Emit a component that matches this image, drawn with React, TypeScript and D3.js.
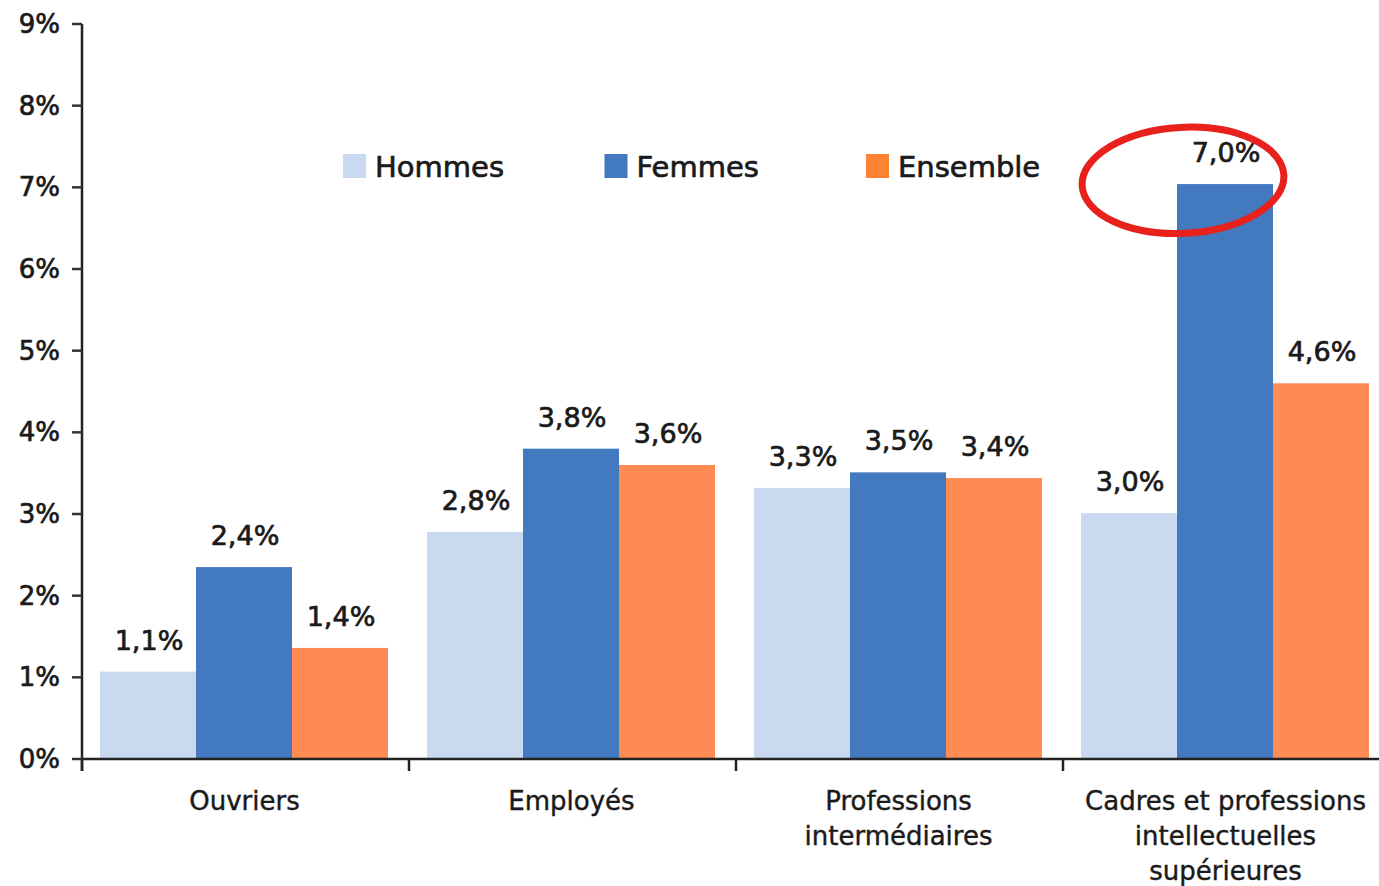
import React from "react";
import * as d3 from "d3";

const categories = [
  ["Ouvriers"],
  ["Employés"],
  ["Professions", "intermédiaires"],
  ["Cadres et professions", "intellectuelles", "supérieures"],
];
const categoryKeys = ["Ouvriers", "Employés", "Professions intermédiaires", "Cadres et professions intellectuelles supérieures"];
const seriesNames = ["Hommes", "Femmes", "Ensemble"];
const hommes = [1.07, 2.78, 3.32, 3.01];
const femmes = [2.35, 3.8, 3.51, 7.04];
const ensemble = [1.36, 3.6, 3.44, 4.6];
const hommesLabels = ["1,1%", "2,8%", "3,3%", "3,0%"];
const femmesLabels = ["2,4%", "3,8%", "3,5%", "7,0%"];
const ensembleLabels = ["1,4%", "3,6%", "3,4%", "4,6%"];
const yTicks = [0, 1, 2, 3, 4, 5, 6, 7, 8, 9];
const yTickLabels = ["0%", "1%", "2%", "3%", "4%", "5%", "6%", "7%", "8%", "9%"];

const barColors = ["#C9DAF0", "#4379BE", "#FE8B54"];
const legendColors = ["#C9DAF0", "#4379BE", "#FF8232"];

const W = 1379;
const H = 886;
const FONT = "'DejaVu Sans', Verdana, sans-serif";
const TEXT = "#1a1a1a";

export default function App() {
  const y = d3.scaleLinear().domain([0, 9]).range([759, 24]);
  const x = d3.scaleBand<string>().domain(categoryKeys).range([82, 82 + 4 * 327]).paddingInner(0).paddingOuter(0);
  const xi = d3.scaleBand<string>().domain(seriesNames).range([18, 18 + 288]);
  const values = [hommes, femmes, ensemble];
  const labels = [hommesLabels, femmesLabels, ensembleLabels];
  const legendX = d3.scalePoint<string>().domain(seriesNames).range([343, 866]);

  const cadres = categoryKeys[3];
  const ellCx = (x(cadres) as number) + (xi("Femmes") as number) + 6;
  const ellCy = y(7) - 7;

  const textProps = { fontFamily: FONT, fill: TEXT, stroke: TEXT, strokeWidth: 0.7 };

  return (
    <svg width={W} height={H} style={{ position: "absolute", left: 0, top: 0, background: "#fff" }}>
      {categoryKeys.map((c, ci) =>
        seriesNames.map((s, si) => {
          const bx = (x(c) as number) + (xi(s) as number);
          const v = values[si][ci];
          return (
            <rect key={c + s} x={bx} y={y(v)} width={xi.bandwidth()} height={y(0) - y(v)} fill={barColors[si]} />
          );
        })
      )}
      {categoryKeys.map((c, ci) =>
        seriesNames.map((s, si) => {
          const bx = (x(c) as number) + (xi(s) as number) + xi.bandwidth() / 2;
          const v = values[si][ci];
          return (
            <text key={"l" + c + s} x={bx + 1} y={y(v) - 22} textAnchor="middle" fontSize={27} {...textProps}>
              {labels[si][ci]}
            </text>
          );
        })
      )}
      <line x1={82} x2={82} y1={y(9)} y2={771} stroke="#222" strokeWidth={2.5} />
      {yTicks.map((t, i) => (
        <g key={t}>
          <line x1={72} x2={82} y1={y(t)} y2={y(t)} stroke="#333" strokeWidth={2.5} />
          <text x={60} y={y(t) + 9} textAnchor="end" fontSize={26} {...textProps}>
            {yTickLabels[i]}
          </text>
        </g>
      ))}
      <line x1={82} x2={W} y1={y(0)} y2={y(0)} stroke="#222" strokeWidth={2.5} />
      {categoryKeys.map((c) => (
        <line key={"t" + c} x1={x(c) as number} x2={x(c) as number} y1={y(0)} y2={771} stroke="#222" strokeWidth={2.5} />
      ))}
      {categoryKeys.map((c, ci) => (
        <text key={"c" + c} textAnchor="middle" fontSize={26} {...textProps} strokeWidth={0.4}>
          {categories[ci].map((line, li) => (
            <tspan key={li} x={(x(c) as number) + x.bandwidth() / 2 - 1} y={810 + li * 35}>
              {line}
            </tspan>
          ))}
        </text>
      ))}
      {seriesNames.map((s, si) => (
        <g key={"lg" + s} transform={`translate(${legendX(s)},0)`}>
          <rect x={0} y={154} width={23} height={24} fill={legendColors[si]} />
          <text x={32} y={177} fontSize={29} {...textProps}>
            {s}
          </text>
        </g>
      ))}
      <ellipse
        cx={ellCx}
        cy={ellCy}
        rx={101}
        ry={53}
        fill="none"
        stroke="#E8211D"
        strokeWidth={7}
        transform={`rotate(-3 ${ellCx} ${ellCy})`}
      />
    </svg>
  );
}
